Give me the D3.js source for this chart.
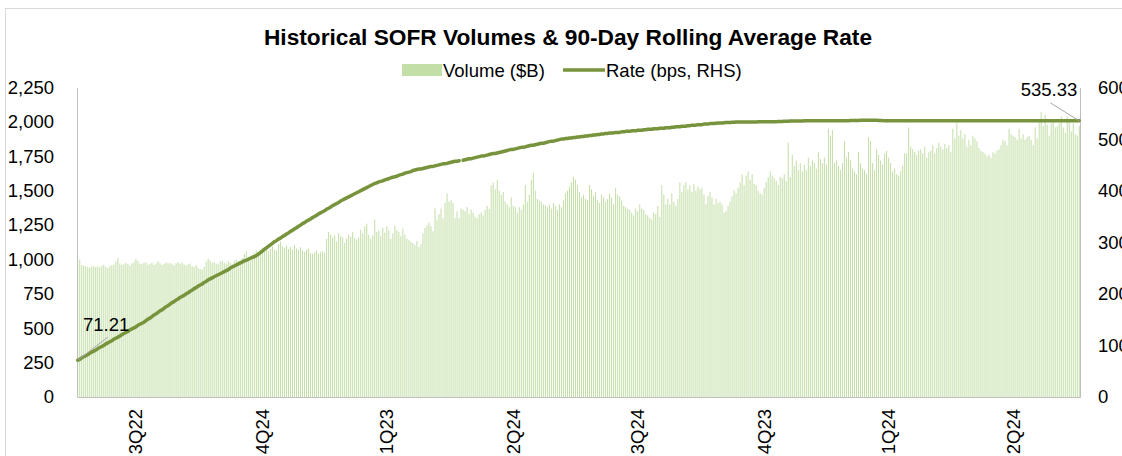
<!DOCTYPE html>
<html>
<head>
<meta charset="utf-8">
<script src="https://cdn.jsdelivr.net/npm/d3@7"></script>
<style>
  html, body { margin: 0; padding: 0; background: #fff; }
  svg { display: block; font-family: Arial, "Liberation Sans", sans-serif; }
</style>
</head>
<body>
<svg id="chart" width="1122" height="456"></svg>
<script>
// Daily SOFR volume ($B), one value per business day, Jul 2022 - Jun 2024
const volume = [
  965,1000,960,955,950,945,940,948,952,945,
  950,942,955,960,945,938,950,958,962,985,
  1010,970,960,965,975,968,955,972,980,1005,
  990,970,965,975,980,962,968,975,960,970,
  985,972,960,968,978,970,975,965,958,972,
  980,968,975,962,955,965,970,950,945,960,
  940,930,925,945,985,1005,990,975,980,970,
  965,985,990,975,970,985,975,965,990,1000,
  985,970,1010,1040,1060,1020,1010,1030,1050,1065,
  1040,1070,1085,1090,1075,1060,1080,1095,1070,1065,
  1110,1130,1095,1085,1100,1075,1090,1070,1105,1080,
  1070,1090,1060,1055,1070,1080,1045,1040,1050,1065,
  1040,1055,1060,1050,1150,1200,1180,1160,1175,1130,
  1190,1170,1160,1120,1150,1180,1165,1200,1155,1145,
  1160,1215,1190,1240,1260,1180,1150,1175,1290,1200,
  1210,1170,1230,1195,1240,1210,1150,1190,1245,1215,
  1200,1170,1225,1180,1150,1140,1130,1120,1105,1135,
  1090,1110,1190,1230,1250,1270,1240,1205,1370,1290,
  1330,1370,1300,1410,1480,1420,1430,1410,1300,1350,
  1300,1370,1360,1350,1380,1330,1360,1340,1310,1300,
  1330,1340,1320,1360,1390,1365,1540,1560,1510,1580,
  1500,1470,1490,1420,1400,1380,1450,1390,1380,1340,
  1380,1360,1400,1540,1420,1470,1580,1630,1500,1440,
  1430,1420,1400,1395,1380,1400,1370,1410,1390,1360,
  1400,1380,1430,1480,1500,1530,1560,1600,1580,1540,
  1490,1450,1470,1440,1430,1540,1510,1460,1490,1430,
  1410,1470,1450,1420,1440,1480,1450,1400,1520,1470,
  1460,1430,1390,1380,1370,1360,1340,1320,1370,1350,
  1400,1370,1360,1330,1320,1300,1290,1340,1330,1390,
  1310,1540,1470,1400,1440,1400,1480,1420,1390,1440,
  1560,1490,1540,1560,1510,1540,1490,1550,1500,1530,
  1510,1520,1470,1400,1460,1490,1450,1400,1440,1410,
  1420,1400,1340,1350,1390,1420,1460,1500,1480,1520,
  1560,1620,1540,1610,1640,1580,1620,1550,1540,1500,
  1480,1470,1520,1560,1600,1640,1610,1590,1570,1540,
  1600,1590,1620,1570,1850,1600,1760,1680,1720,1650,
  1700,1640,1690,1650,1740,1680,1720,1700,1660,1780,
  1730,1700,1740,1690,1950,1900,1940,1700,1720,1680,
  1650,1700,1860,1740,1780,1720,1660,1640,1620,1780,
  1700,1660,1650,1620,1890,1860,1700,1650,1800,1760,
  1720,1690,1770,1790,1740,1700,1640,1660,1620,1610,
  1640,1680,1770,1770,1960,1820,1800,1780,1760,1790,
  1800,1770,1820,1740,1780,1790,1830,1770,1810,1850,
  1820,1800,1840,1810,1830,1780,1950,1880,1990,1900,
  1940,1880,1910,1820,1870,1830,1900,1880,1860,1810,
  1790,1780,1770,1750,1760,1740,1780,1770,1790,1800,
  1830,1870,1860,1830,1950,1910,1900,1890,1870,1950,
  1880,1910,1870,1890,1900,1870,1830,1960,1880,2000,
  2070,1970,2050,1980,1900,1990,2010,1960,1970,1990,
  2040,1960,1920,2040,2000,1930,1990,1910,1900,1970
];

// 90-day rolling average SOFR (bps); null = no print that day
const rate = [
  71.21,73,76,78,80,82,85,87,89,91,
  94,96,98,100,103,105,107,109,112,114,
  116,118,121,123,125,127,130,132,134,136,
  139,141,143,145,148,151,153,156,159,161,
  164,167,169,172,175,177,180,183,185,188,
  190,193,195,197,200,202,205,207,210,212,
  215,217,219,222,224,227,229,231,233,235,
  237,239,241,243,245,247,250,252,254,256,
  258,260,262,264,265,267,269,271,272,274,
  277,280,283,286,289,292,295,298,301,303,
  306,308,311,313,316,318,321,323,326,328,
  331,333,336,338,341,343,345,348,350,352,
  355,357,359,361,364,366,368,371,373,375,
  377,380,382,384,386,388,390,392,394,396,
  398,400,402,404,406,408,410,412,414,415,
  417,418,419,421,422,423,425,426,427,428,
  430,431,432,434,435,436,437,439,440,441,
  442,442,443,444,445,446,447,447,448,449,
  450,451,452,452,453,454,455,456,457,457,
  458,null,459,460,461,462,462,463,464,465,
  466,467,467,468,469,470,471,472,472,473,
  474,475,476,477,478,479,480,480,481,482,
  483,484,484,485,486,487,488,488,489,490,
  491,492,492,493,494,495,496,496,497,498,
  499,500,500,501,501,502,502,503,503,504,
  504,505,505,506,506,507,507,508,508,509,
  509,510,510,511,511,512,512,512,513,513,
  513,514,514,515,515,515,516,516,516,517,
  517,517,518,518,519,519,519,520,520,520,
  521,521,521,522,522,522,523,523,524,524,
  524,525,525,525,526,526,527,527,527,528,
  528,528,529,529,529,530,530,530,530.5,531,
  531,531,531.5,532,532,532,532.5,532.5,533,533,
  533,533,533,533,533,533.2,533.2,533.3,533.3,533.4,
  533.4,533.5,533.5,533.6,533.6,533.7,533.7,533.8,533.8,533.9,
  534,534.2,534.4,534.6,534.8,535,535,535.1,535.1,535.2,
  535.2,535.2,535.3,535.3,535.3,535.3,535.4,535.4,535.4,535.4,
  535.4,535.5,535.5,535.5,535.5,535.5,535.6,535.6,535.6,535.6,
  535.6,535.7,535.7,535.7,535.7,535.8,535.8,535.8,536,536.2,
  536.3,536.4,536.5,536.5,536.5,536.5,536.5,536.4,536.3,536.2,
  536,535.8,535.7,535.6,535.5,535.5,535.4,535.4,535.4,535.4,
  535.4,535.4,535.4,535.4,535.4,535.4,535.4,535.4,535.4,535.4,
  535.4,535.4,535.4,535.4,535.4,535.4,535.4,535.4,535.4,535.4,
  535.4,535.4,535.4,535.4,535.4,535.4,535.4,535.4,535.4,535.4,
  535.4,535.4,535.4,535.4,535.4,535.4,535.4,535.4,535.4,535.4,
  535.4,535.4,535.4,535.4,535.4,535.4,535.4,535.4,535.4,535.4,
  535.4,535.4,535.4,535.4,535.4,535.4,535.4,535.4,535.4,535.4,
  535.4,535.4,535.4,535.4,535.4,535.4,535.4,535.4,535.4,535.4,
  535.4,535.4,535.4,535.4,535.4,535.4,535.4,535.4,535.4,535.4,
  535.4,535.4,535.4,535.4,535.4,535.4,535.4,535.4,535.35,535.33
];

// Quarter labels along the date axis and the business day each one sits on
const quarterLabels = ["3Q22", "4Q24", "1Q23", "2Q24", "3Q24", "4Q23", "1Q24", "2Q24"];
const quarterDays = [29, 92, 154, 217, 279, 342, 404, 466];

const volumeTicks = [0, 250, 500, 750, 1000, 1250, 1500, 1750, 2000, 2250];
const rateTicks = [0, 100, 200, 300, 400, 500, 600];

const days = d3.range(volume.length);

const svg = d3.select("#chart");
const plotLeft = 77, plotRight = 1080, plotTop = 87.5, plotBottom = 397;
const axisColor = "#bfbfbf";
const font = 18.5;

// outer chart frame
svg.append("rect")
  .attr("x", 5.5).attr("y", 8.5)
  .attr("width", 1140).attr("height", 470)
  .attr("fill", "#fff").attr("stroke", "#d9d9d9");

const x = d3.scaleBand().domain(days).range([plotLeft, plotRight]).paddingInner(0.5).paddingOuter(0.1);
const yVol = d3.scaleLinear().domain([0, 2250]).range([plotBottom, plotTop]);
const yRate = d3.scaleLinear().domain([0, 600]).range([plotBottom, plotTop]);
const cx = i => x(i) + x.bandwidth() / 2;

// volume bars
svg.append("g")
  .selectAll("rect")
  .data(days)
  .join("rect")
  .attr("x", i => x(i))
  .attr("width", x.bandwidth())
  .attr("y", i => yVol(volume[i]))
  .attr("height", i => yVol(0) - yVol(volume[i]))
  .attr("fill", "#c3dea6");

// axes
const gl = svg.append("g").attr("transform", `translate(${plotLeft},0)`)
  .call(d3.axisLeft(yVol).tickValues(volumeTicks).tickFormat(d3.format(",")).tickSize(0).tickPadding(23));
const gr = svg.append("g").attr("transform", `translate(${plotRight},0)`)
  .call(d3.axisRight(yRate).tickValues(rateTicks).tickFormat(d3.format("d")).tickSize(0).tickPadding(18));
const gb = svg.append("g").attr("transform", `translate(0,${plotBottom})`)
  .call(d3.axisBottom(x).tickValues(quarterDays).tickFormat((d, i) => quarterLabels[i]).tickSize(0).tickSizeOuter(0));

[gl, gr, gb].forEach(g => {
  g.select(".domain").attr("stroke", axisColor).attr("stroke-width", 1);
  g.selectAll("text").attr("font-size", font).attr("fill", "#000")
    .attr("font-family", "Arial, 'Liberation Sans', sans-serif");
});
gb.selectAll(".tick text")
  .attr("text-anchor", "end")
  .attr("transform", "translate(0,12) rotate(-90)")
  .attr("x", 0).attr("y", 0).attr("dy", "0.35em");

// rolling average rate line
const line = d3.line()
  .defined(i => rate[i] != null)
  .x(i => cx(i))
  .y(i => yRate(rate[i]));

svg.append("path")
  .datum(days)
  .attr("d", line)
  .attr("fill", "none")
  .attr("stroke", "#77933c")
  .attr("stroke-width", 3.5)
  .attr("stroke-linejoin", "round")
  .attr("stroke-linecap", "round");

// first and last rate labels with leader lines
const first = 0, last = rate.length - 1;
const callouts = [
  { i: first, dx: 30, dy: -23, tx: 83, ty: -36, anchor: "start" },
  { i: last, dx: -29, dy: -18, tx: -2, ty: -31, anchor: "end" }
];
callouts.forEach(c => {
  const px = cx(c.i), py = yRate(rate[c.i]);
  svg.append("line")
    .attr("x1", px).attr("y1", py)
    .attr("x2", px + c.dx).attr("y2", py + c.dy)
    .attr("stroke", "#a6a6a6").attr("stroke-width", 1);
  svg.append("text")
    .attr("x", c.anchor === "start" ? c.tx : px + c.tx)
    .attr("y", py + c.ty)
    .attr("dy", "0.35em")
    .attr("text-anchor", c.anchor)
    .attr("font-size", font)
    .text(d3.format(".2f")(rate[c.i]));
});

// title and legend
svg.append("text")
  .attr("x", 568).attr("y", 45)
  .attr("text-anchor", "middle")
  .attr("font-size", 22.7)
  .attr("font-weight", "bold")
  .text("Historical SOFR Volumes & 90-Day Rolling Average Rate");

const lg = svg.append("g");
lg.append("rect").attr("x", 402).attr("y", 64).attr("width", 40).attr("height", 12).attr("fill", "#c3dea6");
lg.append("text").attr("x", 443).attr("y", 77).attr("font-size", font).text("Volume ($B)");
lg.append("line").attr("x1", 563).attr("x2", 605).attr("y1", 70).attr("y2", 70)
  .attr("stroke", "#77933c").attr("stroke-width", 3.5);
lg.append("text").attr("x", 606).attr("y", 77).attr("font-size", font).text("Rate (bps, RHS)");
</script>
</body>
</html>
